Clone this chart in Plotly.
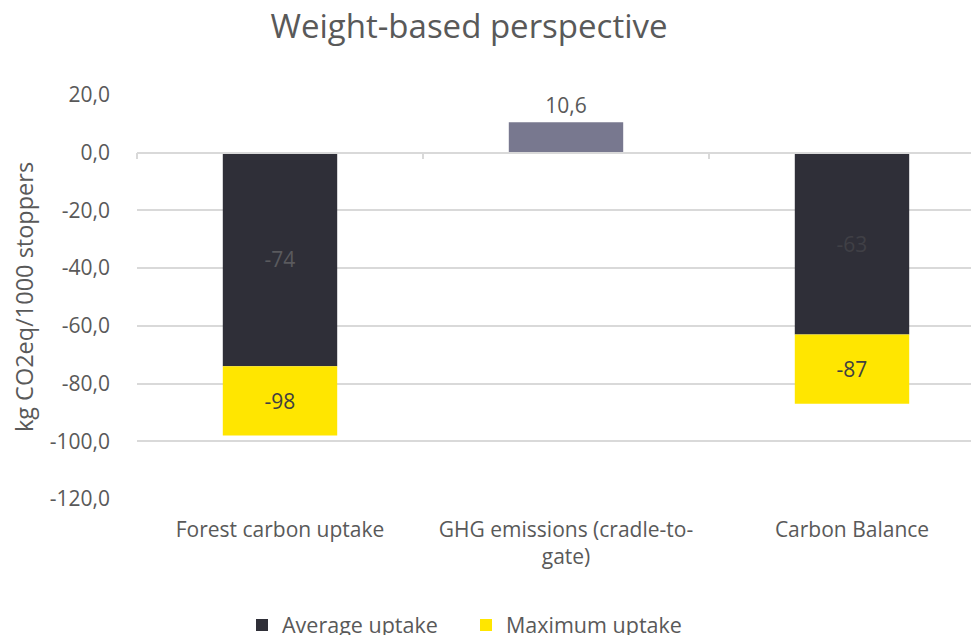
import plotly.graph_objects as go

categories = ["Forest carbon uptake", "GHG emissions (cradle-to-<br>gate)", "Carbon Balance"]
average_uptake = [-74, None, -63]
maximum_total = [-98, None, -87]
ghg_emissions = [None, 10.6, None]
y_ticks = [20, 0, -20, -40, -60, -80, -100, -120]
y_tick_labels = ["20,0", "0,0", "-20,0", "-40,0", "-60,0", "-80,0", "-100,0", "-120,0"]

positions = list(range(len(categories)))
max_extra = [(m - a) if m is not None else None for m, a in zip(maximum_total, average_uptake)]

FONT = "Open Sans"
GREY = "#595959"
W, H = 971, 627
L, T, B = 129, 87, 136
PW = W - L
PH = H - T - B

fig = go.Figure()
fig.add_trace(go.Bar(
    x=positions, y=average_uptake, name="Average uptake",
    marker=dict(color="#2f2f38", line=dict(width=0)),
    text=[str(v) if v is not None else "" for v in average_uptake],
    textposition="inside", insidetextanchor="middle",
    textfont=dict(family=FONT, size=21, color=["#5a5a5e", "#5a5a5e", "#404046"]),
    width=0.4, hoverinfo="skip",
))
fig.add_trace(go.Bar(
    x=positions, y=max_extra, name="Maximum uptake",
    marker=dict(color="#ffe600", line=dict(width=0)),
    text=[str(v) if v is not None else "" for v in maximum_total],
    textposition="inside", insidetextanchor="middle",
    textfont=dict(family=FONT, size=21, color="#404040"),
    width=0.4, hoverinfo="skip",
))
fig.add_trace(go.Bar(
    x=positions, y=ghg_emissions, name="GHG emissions", showlegend=False,
    marker=dict(color="#78788f", line=dict(width=0)),
    text=[("%.1f" % v).replace(".", ",") if v is not None else "" for v in ghg_emissions],
    textposition="outside", cliponaxis=False,
    textfont=dict(family=FONT, size=21, color=GREY),
    width=0.4, hoverinfo="skip",
))
# invisible trace on secondary axis: category boundary ticks along the zero line
fig.add_trace(go.Scatter(x=[None], y=[None], xaxis="x2", showlegend=False, hoverinfo="skip"))

x_range = [-0.5, -0.5 + PW / 286.0]

fig.update_layout(
    barmode="relative",
    width=W, height=H,
    margin=dict(l=L, r=0, t=T, b=B, autoexpand=False),
    paper_bgcolor="white", plot_bgcolor="white",
    font=dict(family=FONT, color=GREY, size=21),
    title=dict(text="Weight-based perspective", x=(469 - 8) / W, xanchor="center",
               y=1 - 18 / H, yanchor="middle", automargin=False,
               font=dict(family=FONT, size=33, color=GREY)),
    xaxis=dict(type="linear", range=x_range, tickvals=positions, ticktext=categories,
               showgrid=False, showline=False, ticks="", zeroline=False, automargin=False,
               tickfont=dict(family=FONT, size=21, color=GREY),
               ticklabelstandoff=16, fixedrange=True),
    xaxis2=dict(type="linear", overlaying="x", matches="x", anchor="free", position=120 / 140,
                side="bottom", showline=True, linecolor="#d9d9d9", linewidth=1.5,
                ticks="outside", ticklen=6, tickcolor="#d9d9d9", tickwidth=1.5,
                tickvals=[-0.5, 0.5, 1.5, 2.5], showticklabels=False, showgrid=False,
                zeroline=False, automargin=False),
    yaxis=dict(range=[-120, 20], tickvals=y_ticks, ticktext=y_tick_labels,
               showgrid=True, gridcolor="#d9d9d9", gridwidth=1.5, zeroline=False,
               showline=False, ticks="", ticklabelstandoff=26, automargin=False,
               tickfont=dict(family=FONT, size=21, color=GREY),
               title=dict(text="kg CO2eq/1000 stoppers", standoff=10,
                          font=dict(family=FONT, size=23.5, color=GREY))),
    legend=dict(orientation="h", xref="container", yref="container",
                x=234 / W, xanchor="left",
                y=(H - 617) / H, yanchor="middle",
                font=dict(family=FONT, size=21.5, color=GREY),
                entrywidth=179, entrywidthmode="pixels",
                itemwidth=30, tracegroupgap=0),
    bargap=0.6,
)

fig.write_html("out.html")
